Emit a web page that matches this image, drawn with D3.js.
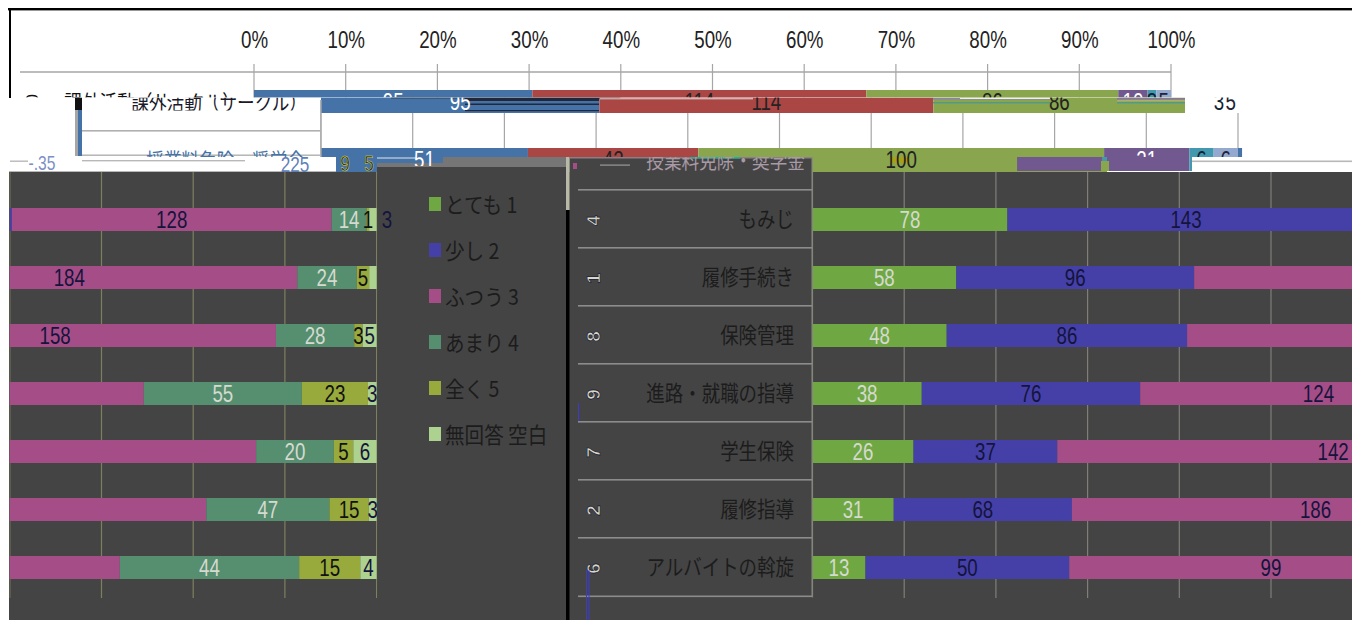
<!DOCTYPE html>
<html>
<head>
<meta charset="utf-8">
<script src="https://cdn.jsdelivr.net/npm/d3@7"></script>
<style>
  html, body { margin: 0; padding: 0; background: #fff; overflow: hidden; }
  text { font-family: "Liberation Sans", sans-serif; }
  .jp { font-family: "Noto Sans CJK JP", sans-serif; }
</style>
</head>
<body>
<div id="chart"></div>
<script>
// upper chart (white part)
const topRows = ['課外活動（サークル）', '授業料免除・奨学金']
const topS1 = [95, 51]
const topS2 = [114, 42]
const topS3 = [86, 100]
const topS4 = [10, 21]
const topS5 = [3, 6]
const topS6 = [5, 6]
const topS7 = [0, 1]
const pctTicks = [0, 10, 20, 30, 40, 50, 60, 70, 80, 90, 100]

// lower chart (dark part)
const rows = ['もみじ', '履修手続き', '保険管理', '進路・就職の指導', '学生保険', '履修指導', 'アルバイトの斡旋']
const rowNumbers = ['4', '1', '8', '9', '7', '2', '6']
const veryMuch = [78, 58, 48, 38, 26, 31, 13]
const aLittle = [143, 96, 86, 76, 37, 68, 50]
const neutral = [128, 184, 158, 124, 142, 186, 99]
const notMuch = [14, 24, 28, 55, 20, 47, 44]
const notAtAll = [1, 5, 3, 23, 5, 15, 15]
const noAnswer = [3, 3, 5, 3, 6, 3, 4]
const legendNames = ['とても 1', '少し 2', 'ふつう 3', 'あまり 4', '全く 5', '無回答 空白']

const topColors = ['#4573a7', '#aa4644', '#89a54e', '#71588f', '#4298af', '#93a9d0', '#4573a7']
const topTextColors = ['#fff', '#222', '#222', '#fff', '#123', '#223', '#fff']
const colors = ['#6fa843', '#4540a8', '#a54d87', '#568f6f', '#98aa3c', '#add18f']
const textColors = ['#d5dad0', '#14143c', '#14143c', '#d5dad0', '#111', '#14143c']

const width = 1352
const height = 620
const dark = '#444444'
const chartW = 917
const narrow = 0.78  // the digits are condensed, no narrow face is installed

const svg = d3.select('#chart').append('svg')
  .attr('width', width).attr('height', height)
  .style('display', 'block')
const defs = svg.append('defs')

let clipId = 0
function clip(rects) {
  const id = 'c' + (clipId++)
  const c = defs.append('clipPath').attr('id', id)
  rects.forEach(r => c.append('rect').attr('x', r[0]).attr('y', r[1]).attr('width', r[2]).attr('height', r[3]))
  return 'url(#' + id + ')'
}

function box(parent, x, y, w, h, fill) {
  return parent.append('rect').attr('x', x).attr('y', y).attr('width', w).attr('height', h).attr('fill', fill)
}

function jpText(parent, str, x, y, anchor, size, fill, squeeze) {
  return parent.append('text').attr('class', 'jp')
    .attr('transform', 'translate(' + x + ',' + y + ') scale(' + (squeeze || 0.84) + ',1)')
    .attr('text-anchor', anchor).attr('font-size', size).attr('fill', fill)
    .attr('dominant-baseline', 'central')
    .text(str)
}

function numAt(x, y) {
  return 'translate(' + x + ',' + y + ') scale(' + narrow + ',1)'
}

svg.append('rect').attr('width', width).attr('height', height).attr('fill', '#fff')

// ---------- upper chart ----------
// bars are scaled on the first six series, the seventh runs past 100%
const topSeries = [topS1, topS2, topS3, topS4, topS5, topS6, topS7]
const topTable = topRows.map((name, i) => {
  const total = d3.sum(topSeries.slice(0, 6), s => s[i])
  const o = { name: name, row: i }
  topSeries.forEach((s, k) => { o[k] = s[i] / total })
  return o
})
const topStack = d3.stack().keys(d3.range(7))(topTable)
const topY = d3.scaleBand().domain(topRows).range([72.5, 188.5]).paddingInner(35 / 58).paddingOuter(35 / 116)

function topBars(parent, x, onlyRow) {
  topStack.forEach((layer, k) => {
    parent.append('g').attr('fill', topColors[k]).selectAll('rect')
      .data(layer.filter(d => onlyRow === undefined || d.data.row === onlyRow))
      .join('rect')
      .attr('x', d => x(d[0])).attr('width', d => x(d[1]) - x(d[0]))
      .attr('y', d => topY(d.data.name)).attr('height', topY.bandwidth())
  })
}

function topLabels(parent, x) {
  topStack.forEach((layer, k) => {
    parent.append('g').selectAll('text')
      .data(layer.filter(d => k < 6))
      .join('text')
      .attr('transform', d => numAt(x((d[0] + d[1]) / 2), topY(d.data.name) + topY.bandwidth() / 2 + 1))
      .attr('text-anchor', 'middle').attr('dominant-baseline', 'central')
      .attr('font-size', 24).attr('fill', topTextColors[k])
      .text(d => topSeries[k][d.data.row])
  })
}

function topGrid(parent, x) {
  parent.append('g').selectAll('line').data(pctTicks).join('line')
    .attr('x1', d => x(d / 100)).attr('x2', d => x(d / 100))
    .attr('y1', 64).attr('y2', 171)
    .attr('stroke', '#a6a6a6').attr('stroke-width', 1.2)
}

// layer A, the chart where it belongs
const xA = d3.scaleLinear().domain([0, 1]).range([254, 254 + chartW])
const layerA = svg.append('g').attr('clip-path', clip([[0, 0, width, 97.5]]))
layerA.append('line').attr('x1', 20).attr('x2', xA(1)).attr('y1', 72).attr('y2', 72)
  .attr('stroke', '#a6a6a6').attr('stroke-width', 1.5)
topGrid(layerA, xA)
topBars(layerA, xA)
topLabels(layerA, xA)
jpText(layerA, topRows[0], 240, 101, 'end', 21, '#111')
layerA.append('text').attr('text-anchor', 'middle')
  .attr('font-size', 16).attr('fill', '#111').attr('transform', 'rotate(-90,38,103) translate(38,103)').text('10')

const axisA = d3.axisTop(d3.scaleLinear().domain([0, 100]).range(xA.range()))
  .tickValues(pctTicks).tickFormat(d => d + '%').tickSize(0).tickPadding(0)
svg.append('g').attr('transform', 'translate(0,48)').call(axisA)
  .call(g => g.select('.domain').remove())
  .selectAll('text').attr('font-size', 24).attr('fill', '#222')
  .attr('font-family', '"Liberation Sans", sans-serif')
  .attr('transform', 'scale(' + narrow + ',1)')

// layer B, same chart slipped to the right
const shiftB = 67
const xB = d3.scaleLinear().domain([0, 1]).range([254 + shiftB, 254 + shiftB + chartW])
const layerB = svg.append('g').attr('clip-path', clip([[0, 97.5, width, 59.5]]))
box(layerB, 0, 97.5, width, 60, '#fff')
const barsB = layerB.append('g').attr('clip-path', clip([[xB(0), 97.5, 864, 16], [xB(0), 113, 1000, 44]]))
topGrid(barsB, xB)
topBars(barsB, xB)
box(layerB, 82, 130, xB(0) - 82, 1.6, '#b0b0b0')
box(layerB, 82, 154.5, xB(0) - 82, 1.4, '#b0b0b0')
box(layerB, 75, 97.5, 7, 13, '#111')
box(layerB, 75, 110, 3, 46, '#a6a6a6')
box(layerB, 78, 110, 4, 46, '#4573a7')
box(layerB, xB(0) - 1, 100, 1.6, 57, '#b0b0b0')
const nameB = layerB.append('g').attr('clip-path', clip([[0, 97.5, width, 13]]))
jpText(nameB, topRows[0], 307, 101, 'end', 21, '#1a1a2a')
jpText(layerB, topRows[1], 305, 159, 'end', 21, '#4573a7')

// stripes where the two layers tore apart
const tearBands = [
  [391, 97.5, 209, 0.8, '#222'], [465, 98, 134, 3, '#22283a'], [465, 103.5, 134, 1.5, '#22283a'],
  [465, 110, 134, 1.2, '#22283a'], [600, 97.6, 20, 1, '#222'], [600, 98.3, 153, 1, '#e8e0e0'],
  [933, 98, 117, 1.6, '#8b84a8'], [933, 102, 117, 1.4, '#4f9a8a'], [960, 98, 90, 1, '#eee'],
  [1117, 98, 68, 1.6, '#8b74a0'], [1117, 102, 68, 1.4, '#4f9a8a'], [1117, 100, 68, 1.5, '#a8b070']
]
tearBands.forEach(b => box(layerB, b[0], b[1], b[2], b[3], b[4]))

// strip between white and dark, again slipped
const shiftC = -87
const xC = d3.scaleLinear().domain([0, 1]).range([321 + shiftC, 321 + shiftC + chartW])
const strip = svg.append('g')
box(strip, 9, 157, 327, 15, '#fff')
box(strip, 82, 160, 163, 1.4, '#b8b8b8')
box(strip, 10, 160.5, 18, 1.4, '#b8b8b8')
box(strip, 1192, 160.5, 160, 1.6, '#b8b8b8')
box(strip, 9, 171, 327, 1.2, '#b8b8b8')
box(strip, 336, 157, 41, 15, '#4573a7')
box(strip, 377, 157, 66, 6, '#4573a7')
box(strip, 377, 157.5, 40, 1, '#dfe5ee')
box(strip, 443, 157, 123, 10, '#767676')
box(strip, 377, 163, 66, 4, '#767676')
strip.append('text').attr('transform', numAt(42, 170)).attr('text-anchor', 'middle').attr('font-size', 20).attr('fill', '#7d8fc8').text('-.35')
strip.append('text').attr('transform', numAt(295, 172)).attr('text-anchor', 'middle').attr('font-size', 22).attr('fill', '#5f7fb8').text('225')
strip.selectAll('.frag').data(['9', '5']).join('text').attr('class', 'frag')
  .attr('transform', (d, i) => numAt(345 + i * 24, 171)).attr('text-anchor', 'middle')
  .attr('font-size', 22).attr('fill', '#1a1a1a').attr('stroke', '#e8e050').attr('stroke-width', 0.5).text(d => d)

const stripRight = svg.append('g').attr('clip-path', clip([[812, 157, 295, 15]]))
box(stripRight, 812, 157, 295, 15, '#89a54e')
topBars(stripRight, xC, 1)
const stripPurple = svg.append('g').attr('clip-path', clip([[1107, 157, 85, 15]]))
topBars(stripPurple, xB, 1)
box(svg, 1101, 161, 8, 10, '#89a54e')
box(svg, 890, 157, 20, 6, '#aaa018')

// ---------- dark part ----------
box(svg, 9, 172, width - 9, height - 172, dark)
box(svg, 377, 167, 189, 6, dark)
box(svg, 566, 157, 3.5, 53, '#b9b9a8')
box(svg, 569.5, 157, 242.5, 15, dark)
box(svg, 569.5, 157, 242.5, 1.5, '#8a7f86')
box(svg, 690, 157, 50, 1.5, '#22b09c')
box(svg, 566, 210, 3.5, height - 210, '#000')
box(svg, 573, 163, 4, 6, '#a54d87')
box(svg, 600, 164.5, 30, 1.2, '#999')

// lower half of the second row name landed in the panel
const nameTail = svg.append('g').attr('clip-path', clip([[622, 157, 190, 14]]))
jpText(nameTail, topRows[1], 805, 159, 'end', 21, '#a89aa6')

// upper chart's labels sit above the strip
const labelsB = svg.append('g').attr('clip-path', clip([[0, 97.5, width, 59.5], [410, 157, 30, 9], [885, 157, 45, 11]]))
topLabels(labelsB, xB)

const x = d3.scaleLinear().domain([0, 1]).range([812.5, 812.5 + chartW])
const wrap = -1352.9  // what runs off the right side comes back on the left
const y = d3.scaleBand().domain(rows).range([190.5, 596.5]).paddingInner(35 / 58).paddingOuter(35 / 116)

const table = rows.map((name, i) => ({
  name: name, 0: veryMuch[i], 1: aLittle[i], 2: neutral[i], 3: notMuch[i], 4: notAtAll[i], 5: noAnswer[i]
}))
const stacked = d3.stack().keys(d3.range(6)).offset(d3.stackOffsetExpand)(table)

function bottomChart(parent, gridColor) {
  parent.append('g').selectAll('line').data(d3.range(0, 11)).join('line')
    .attr('x1', d => x(d / 10)).attr('x2', d => x(d / 10))
    .attr('y1', 172).attr('y2', 598)
    .attr('stroke', gridColor).attr('stroke-width', 1.2)
  stacked.forEach((layer, k) => {
    parent.append('g').attr('fill', colors[k]).selectAll('rect').data(layer).join('rect')
      .attr('x', d => x(d[0])).attr('width', d => x(d[1]) - x(d[0]))
      .attr('y', d => y(d.data.name)).attr('height', y.bandwidth())
  })
}

// stackOffsetExpand overwrites nothing in d.data, so the raw figures stay readable
function bottomLabels(parent) {
  stacked.forEach((layer, k) => {
    parent.append('g').selectAll('text')
      // the last figure of 履修手続き is not printed, the one of もみじ stands outside its bar
      .data(layer.filter(d => !(k === 5 && d.data.name === rows[1])))
      .join('text')
      .attr('transform', d => numAt(
        x((d[0] + d[1]) / 2) + (k === 5 && d.data.name === rows[0] ? 14 : 0),
        y(d.data.name) + y.bandwidth() / 2 + 1))
      .attr('text-anchor', 'middle').attr('dominant-baseline', 'central')
      .attr('font-size', 24).attr('fill', textColors[k])
      .text(d => d.data[k])
  })
}

const right = svg.append('g').attr('clip-path', clip([[812.5, 172, width - 812.5, 430]]))
bottomChart(right, '#7f7f78')
const left = svg.append('g').attr('clip-path', clip([[9.6, 172, 367.6, 430]]))
  .append('g').attr('transform', 'translate(' + wrap + ',0)')
bottomChart(left, '#7f7f60')
bottomLabels(right)
bottomLabels(svg.append('g').attr('clip-path', clip([[9.6, 172, 367.6, 430], [378, 208, 14, 23]]))
  .append('g').attr('transform', 'translate(' + wrap + ',0)'))

// legend
const legendY = d3.scalePoint().domain(legendNames).range([204, 434])
const legend = svg.append('g')
legend.selectAll('rect').data(legendNames).join('rect')
  .attr('x', 429).attr('y', d => legendY(d) - 7).attr('width', 12).attr('height', 14)
  .attr('fill', (d, i) => colors[i])
legendNames.forEach(d => jpText(legend, d, 445, legendY(d) - 1, 'start', 22, '#1c1c1c', 0.89))

// table of categories
const tableG = svg.append('g')
box(tableG, 811.5, 157, 1.4, 440, '#8a8a80')
tableG.selectAll('.sep').data(rows).join('rect').attr('class', 'sep')
  .attr('x', 578).attr('width', 234).attr('height', 1.6)
  .attr('y', d => y(d) + y.bandwidth() / 2 - 30.5)
  .attr('fill', '#8c8c8c')
box(tableG, 578, 595.5, 234, 1.6, '#8c8c8c')
rows.forEach(d => jpText(tableG, d, 794, y(d) + y.bandwidth() / 2 - 2, 'end', 22, '#1c1c1c'))
tableG.selectAll('.num').data(rowNumbers).join('text').attr('class', 'num')
  .attr('transform', (d, i) => 'translate(593,' + (y(rows[i]) + y.bandwidth() / 2 + 1) + ') rotate(-90)')
  .attr('text-anchor', 'middle').attr('dominant-baseline', 'central')
  .attr('font-size', 19).attr('font-weight', 'bold').attr('fill', '#d8d8c0').attr('stroke', '#15153a').attr('stroke-width', 0.7)
  .text(d => d)
box(tableG, 578, 403, 1, 18, '#3c3ccc')
box(tableG, 586, 570, 1, 50, '#3c3ccc')
box(tableG, 588.5, 570, 1, 50, '#3c3ccc')

// frame
box(svg, 8, 8, width - 8, 2.4, '#000')
box(svg, 9, 8, 2, 90, '#000')
</script>
</body>
</html>
